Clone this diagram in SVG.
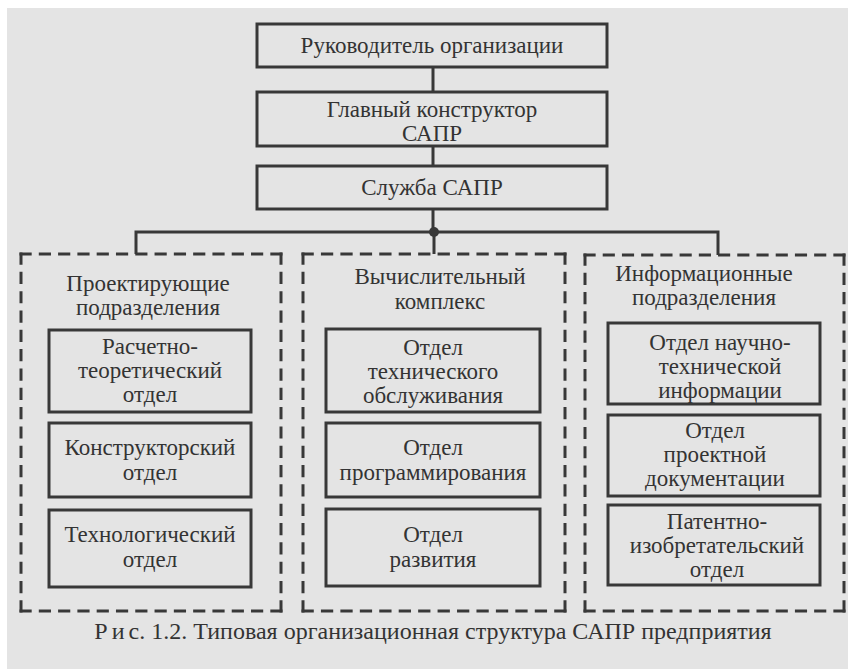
<svg xmlns="http://www.w3.org/2000/svg" width="848" height="669" viewBox="0 0 848 669">
<style>
  .box{fill:none;stroke:#383838;stroke-width:3}
  .d{fill:none;stroke:#383838;stroke-width:3;stroke-dasharray:12 7}
  .ln{fill:none;stroke:#383838;stroke-width:3}
  .t{font-family:'Liberation Serif','Times New Roman',serif;font-size:23px;fill:#333;text-anchor:middle}
  .cap{font-size:24px}
</style>
<rect x="0" y="0" width="848" height="669" fill="#ffffff"/>
<rect x="7" y="8" width="841" height="661" fill="#e4e4e4"/>
<g id="connectors">
  <line class="ln" x1="433" y1="67" x2="433" y2="92"/>
  <line class="ln" x1="433" y1="146" x2="433" y2="166"/>
  <line class="ln" x1="433" y1="209" x2="433" y2="232"/>
  <polyline class="ln" points="136,254 136,232 718,232 718,255"/>
  <line class="ln" x1="434" y1="232" x2="434" y2="254"/>
  <circle cx="434" cy="232" r="5" fill="#383838"/>
</g>
<g class="t">
<g id="n-head">
  <rect class="box" x="257" y="24" width="350" height="43"/>
  <text x="432" y="53">Руководитель организации</text>
</g>
<g id="n-chief">
  <rect class="box" x="257" y="92" width="350" height="54"/>
  <text x="432" y="117">Главный конструктор</text>
  <text x="432" y="141">САПР</text>
</g>
<g id="n-service">
  <rect class="box" x="257" y="166" width="350" height="43"/>
  <text x="432" y="195">Служба САПР</text>
</g>
<g id="g-design">
  <line class="d" x1="19.5" y1="254" x2="282.5" y2="254" pathLength="259"/>
  <line class="d" x1="19.5" y1="611" x2="282.5" y2="611" pathLength="259"/>
  <line class="d" x1="21" y1="252.5" x2="21" y2="612.5" pathLength="354"/>
  <line class="d" x1="281" y1="252.5" x2="281" y2="612.5" pathLength="354"/>
  <text x="148" y="291">Проектирующие</text>
  <text x="148" y="315">подразделения</text>
</g>
<g id="n-calc">
  <rect class="box" x="49" y="330" width="202" height="82"/>
  <text x="150" y="354">Расчетно-</text>
  <text x="150" y="378">теоретический</text>
  <text x="150" y="402">отдел</text>
</g>
<g id="n-constr">
  <rect class="box" x="49" y="423" width="202" height="74"/>
  <text x="150" y="455">Конструкторский</text>
  <text x="150" y="480">отдел</text>
</g>
<g id="n-tech">
  <rect class="box" x="49" y="510" width="202" height="77"/>
  <text x="150" y="542">Технологический</text>
  <text x="150" y="567">отдел</text>
</g>
<g id="g-comp">
  <line class="d" x1="301.5" y1="254" x2="566.5" y2="254" pathLength="259"/>
  <line class="d" x1="301.5" y1="611" x2="566.5" y2="611" pathLength="259"/>
  <line class="d" x1="303" y1="252.5" x2="303" y2="612.5" pathLength="354"/>
  <line class="d" x1="565" y1="252.5" x2="565" y2="612.5" pathLength="354"/>
  <text x="440" y="284">Вычислительный</text>
  <text x="440" y="309">комплекс</text>
</g>
<g id="n-maint">
  <rect class="box" x="326" y="329" width="214" height="83"/>
  <text x="433" y="355">Отдел</text>
  <text x="433" y="379">технического</text>
  <text x="433" y="403">обслуживания</text>
</g>
<g id="n-prog">
  <rect class="box" x="326" y="423" width="214" height="74"/>
  <text x="433" y="455">Отдел</text>
  <text x="433" y="480">программирования</text>
</g>
<g id="n-dev">
  <rect class="box" x="326" y="509" width="214" height="77"/>
  <text x="433" y="542">Отдел</text>
  <text x="433" y="567">развития</text>
</g>
<g id="g-info">
  <line class="d" x1="583.5" y1="255" x2="845.5" y2="255" pathLength="259"/>
  <line class="d" x1="583.5" y1="611" x2="845.5" y2="611" pathLength="259"/>
  <line class="d" x1="585" y1="253.5" x2="585" y2="612.5" pathLength="354"/>
  <line class="d" x1="844" y1="253.5" x2="844" y2="612.5" pathLength="354"/>
  <text x="704" y="281">Информационные</text>
  <text x="704" y="305">подразделения</text>
</g>
<g id="n-sti">
  <rect class="box" x="608" y="323" width="212" height="81"/>
  <text x="720" y="350">Отдел  научно-</text>
  <text x="720" y="374">технической</text>
  <text x="720" y="398">информации</text>
</g>
<g id="n-docs">
  <rect class="box" x="608" y="415" width="212" height="81"/>
  <text x="715" y="438">Отдел</text>
  <text x="715" y="462">проектной</text>
  <text x="715" y="486">документации</text>
</g>
<g id="n-patent">
  <rect class="box" x="608" y="505" width="212" height="80"/>
  <text x="717" y="529">Патентно-</text>
  <text x="717" y="553">изобретательский</text>
  <text x="717" y="577">отдел</text>
</g>
<text class="cap" x="433" y="639"><tspan letter-spacing="4">Ри</tspan>с. 1.2. Типовая организационная структура САПР предприятия</text>
</g>
</svg>
